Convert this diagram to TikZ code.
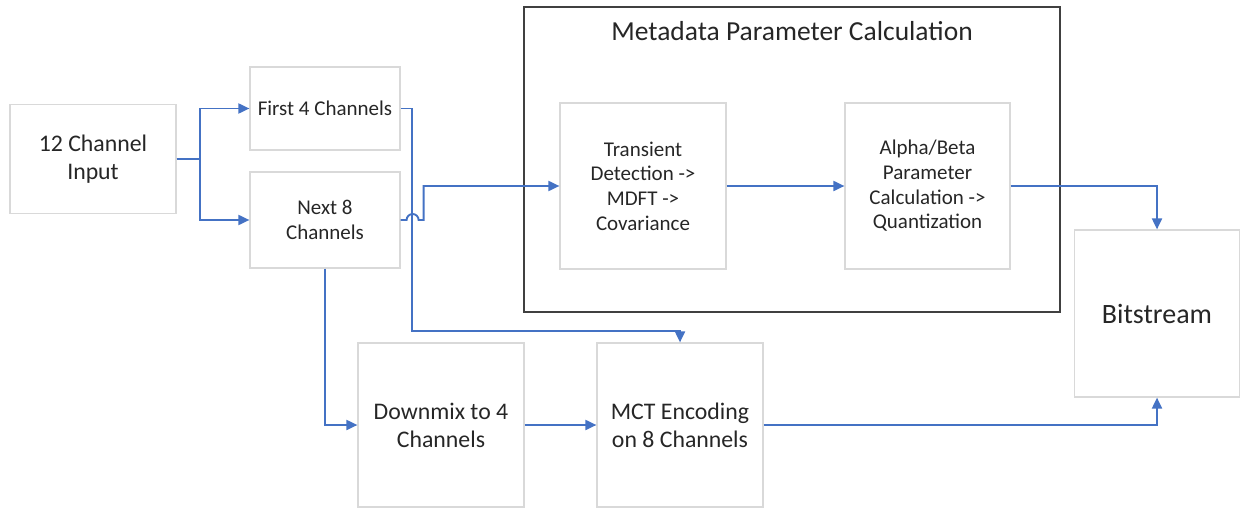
\documentclass[tikz,border=0pt]{standalone}
\usepackage{fontspec}
\setmainfont{Carlito}
\usetikzlibrary{arrows.meta}
\definecolor{flowblue}{HTML}{4472C4}
\definecolor{boxgray}{HTML}{D9D9D9}
\definecolor{framegray}{HTML}{404040}

\begin{document}
\begin{tikzpicture}[x=1pt,y=-1pt,
  blk/.style={draw=boxgray,line width=1.2pt,align=center,inner sep=0pt,text=black!85},
  small/.style={font=\fontsize{21}{24.7}\selectfont},
  big/.style={font=\fontsize{23.8}{28}\selectfont},
  flow/.style={draw=flowblue,line width=1.9pt,-{Triangle[length=11pt,width=10pt]}}]
\useasboundingbox (0,0) rectangle (1241,508);
\node[draw=framegray,line width=1.3pt,minimum width=536pt,minimum height=305pt] (meta) at (792,159.5) {};
\node[font=\fontsize{27.5}{32}\selectfont,text=black!85] (metatitle) at (792,31) {Metadata Parameter Calculation};
\node[blk,big,minimum width=166pt,minimum height=109pt] (in) at (93,159) {12 Channel\\Input};
\node[blk,small,minimum width=150pt,minimum height=83pt] (first) at (325,108.5) {First 4 Channels};
\node[blk,small,minimum width=150pt,minimum height=96pt] (next) at (325,220) {Next 8\\Channels};
\node[blk,small,minimum width=166pt,minimum height=166pt] (trans) at (643,186) {Transient\\Detection ->\\MDFT ->\\Covariance};
\node[blk,small,minimum width=165pt,minimum height=166pt] (alpha) at (927.5,186) {Alpha/Beta\\Parameter\\Calculation ->\\Quantization};
\node[blk,font=\fontsize{28}{32}\selectfont,minimum width=165pt,minimum height=167pt] (bits) at (1157,313.5) {Bitstream};
\node[blk,big,minimum width=166pt,minimum height=164pt] (down) at (441,425) {Downmix to 4\\Channels};
\node[blk,big,minimum width=166pt,minimum height=164pt] (mct) at (680,425) {MCT Encoding\\on 8 Channels};
\coordinate (bend) at (412,331);
% connectors
\draw[flow] (in.east) -- ++(23,0) |- (first);
\draw[flow] (in.east) -- ++(23,0) |- (next);
\draw[flow] (first.east) -| (bend) -| (mct.north);
\draw[flow] (next.east) -- ++(6,0) arc[start angle=180,end angle=0,radius=6pt] -- ++(5,0) |- (trans);
\draw[flow] (trans) -- (alpha);
\draw[flow] (alpha.east) -| (bits.north);
\draw[flow] (next.south) |- (down);
\draw[flow] (down) -- (mct);
\draw[flow] (mct.east) -| (bits.south);
\end{tikzpicture}
\end{document}
